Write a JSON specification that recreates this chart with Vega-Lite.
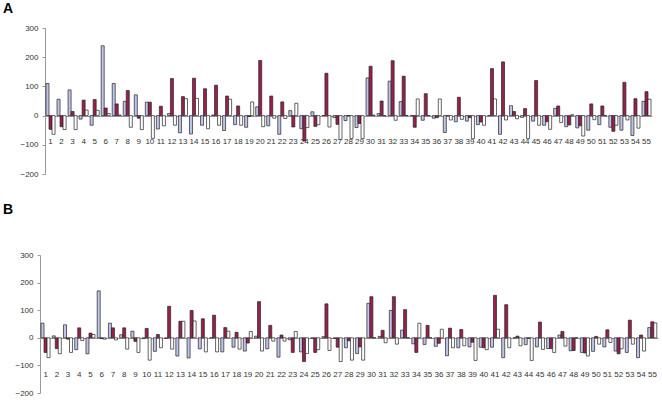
{
"$schema":"https://vega.github.io/schema/vega-lite/v6.json",
"padding":{"left":3,"top":2,"right":0,"bottom":0},
"spacing":25,
"config":{"view":{"stroke":null},"font":"Liberation Sans","axis":{"labelFont":"Liberation Sans","labelFontSize":8,"labelColor":"#333","domainColor":"#999","tickColor":"#999","grid":false,"title":null}},
"datasets":{
"A":[
{"g":1,"s":"a","v":110},{"g":1,"s":"b","v":-47},{"g":1,"s":"c","v":-64},
{"g":2,"s":"a","v":56},{"g":2,"s":"b","v":-38},{"g":2,"s":"c","v":-48},
{"g":3,"s":"a","v":88},{"g":3,"s":"b","v":14},{"g":3,"s":"c","v":-48},
{"g":4,"s":"a","v":-12},{"g":4,"s":"b","v":53},{"g":4,"s":"c","v":19},
{"g":5,"s":"a","v":-33},{"g":5,"s":"b","v":55},{"g":5,"s":"c","v":18},
{"g":6,"s":"a","v":239},{"g":6,"s":"b","v":26},{"g":6,"s":"c","v":7},
{"g":7,"s":"a","v":110},{"g":7,"s":"b","v":40},{"g":7,"s":"c","v":2},
{"g":8,"s":"a","v":49},{"g":8,"s":"b","v":86},{"g":8,"s":"c","v":-40},
{"g":9,"s":"a","v":71},{"g":9,"s":"b","v":-9},{"g":9,"s":"c","v":-48},
{"g":10,"s":"a","v":46},{"g":10,"s":"b","v":46},{"g":10,"s":"c","v":-78},
{"g":11,"s":"a","v":-46},{"g":11,"s":"b","v":32},{"g":11,"s":"c","v":-35},
{"g":12,"s":"a","v":7},{"g":12,"s":"b","v":127},{"g":12,"s":"c","v":-33},
{"g":13,"s":"a","v":-59},{"g":13,"s":"b","v":65},{"g":13,"s":"c","v":58},
{"g":14,"s":"a","v":-63},{"g":14,"s":"b","v":128},{"g":14,"s":"c","v":59},
{"g":15,"s":"a","v":-33},{"g":15,"s":"b","v":92},{"g":15,"s":"c","v":-45},
{"g":16,"s":"a","v":2},{"g":16,"s":"b","v":104},{"g":16,"s":"c","v":-33},
{"g":17,"s":"a","v":-51},{"g":17,"s":"b","v":67},{"g":17,"s":"c","v":56},
{"g":18,"s":"a","v":-31},{"g":18,"s":"b","v":33},{"g":18,"s":"c","v":-33},
{"g":19,"s":"a","v":-40},{"g":19,"s":"b","v":-3},{"g":19,"s":"c","v":47},
{"g":20,"s":"a","v":30},{"g":20,"s":"b","v":189},{"g":20,"s":"c","v":-38},
{"g":21,"s":"a","v":-35},{"g":21,"s":"b","v":67},{"g":21,"s":"c","v":-9},
{"g":22,"s":"a","v":-64},{"g":22,"s":"b","v":47},{"g":22,"s":"c","v":-10},
{"g":23,"s":"a","v":17},{"g":23,"s":"b","v":-39},{"g":23,"s":"c","v":42},
{"g":24,"s":"a","v":-45},{"g":24,"s":"b","v":-87},{"g":24,"s":"c","v":-41},
{"g":25,"s":"a","v":13},{"g":25,"s":"b","v":-37},{"g":25,"s":"c","v":-31},
{"g":26,"s":"a","v":0},{"g":26,"s":"b","v":145},{"g":26,"s":"c","v":-39},
{"g":27,"s":"a","v":-7},{"g":27,"s":"b","v":-30},{"g":27,"s":"c","v":-82},
{"g":28,"s":"a","v":-17},{"g":28,"s":"b","v":0},{"g":28,"s":"c","v":-79},
{"g":29,"s":"a","v":-41},{"g":29,"s":"b","v":-27},{"g":29,"s":"c","v":-79},
{"g":30,"s":"a","v":129},{"g":30,"s":"b","v":169},{"g":30,"s":"c","v":2},
{"g":31,"s":"a","v":7},{"g":31,"s":"b","v":50},{"g":31,"s":"c","v":0},
{"g":32,"s":"a","v":118},{"g":32,"s":"b","v":188},{"g":32,"s":"c","v":-16},
{"g":33,"s":"a","v":48},{"g":33,"s":"b","v":135},{"g":33,"s":"c","v":0},
{"g":34,"s":"a","v":0},{"g":34,"s":"b","v":-40},{"g":34,"s":"c","v":57},
{"g":35,"s":"a","v":-16},{"g":35,"s":"b","v":75},{"g":35,"s":"c","v":0},
{"g":36,"s":"a","v":-9},{"g":36,"s":"b","v":-7},{"g":36,"s":"c","v":57},
{"g":37,"s":"a","v":-58},{"g":37,"s":"b","v":0},{"g":37,"s":"c","v":-15},
{"g":38,"s":"a","v":-21},{"g":38,"s":"b","v":63},{"g":38,"s":"c","v":-13},
{"g":39,"s":"a","v":-19},{"g":39,"s":"b","v":-7},{"g":39,"s":"c","v":-79},
{"g":40,"s":"a","v":-31},{"g":40,"s":"b","v":-22},{"g":40,"s":"c","v":-33},
{"g":41,"s":"a","v":0},{"g":41,"s":"b","v":161},{"g":41,"s":"c","v":57},
{"g":42,"s":"a","v":-64},{"g":42,"s":"b","v":184},{"g":42,"s":"c","v":-15},
{"g":43,"s":"a","v":34},{"g":43,"s":"b","v":14},{"g":43,"s":"c","v":-11},
{"g":44,"s":"a","v":-6},{"g":44,"s":"b","v":24},{"g":44,"s":"c","v":-79},
{"g":45,"s":"a","v":-19},{"g":45,"s":"b","v":120},{"g":45,"s":"c","v":-33},
{"g":46,"s":"a","v":-33},{"g":46,"s":"b","v":-21},{"g":46,"s":"c","v":-47},
{"g":47,"s":"a","v":25},{"g":47,"s":"b","v":33},{"g":47,"s":"c","v":-24},
{"g":48,"s":"a","v":-38},{"g":48,"s":"b","v":-32},{"g":48,"s":"c","v":3},
{"g":49,"s":"a","v":-42},{"g":49,"s":"b","v":-35},{"g":49,"s":"c","v":-70},
{"g":50,"s":"a","v":-50},{"g":50,"s":"b","v":40},{"g":50,"s":"c","v":-14},
{"g":51,"s":"a","v":-31},{"g":51,"s":"b","v":33},{"g":51,"s":"c","v":0},
{"g":52,"s":"a","v":-40},{"g":52,"s":"b","v":-54},{"g":52,"s":"c","v":-33},
{"g":53,"s":"a","v":-50},{"g":53,"s":"b","v":114},{"g":53,"s":"c","v":-15},
{"g":54,"s":"a","v":-68},{"g":54,"s":"b","v":58},{"g":54,"s":"c","v":-43},
{"g":55,"s":"a","v":49},{"g":55,"s":"b","v":82},{"g":55,"s":"c","v":56}
],
"B":[
{"g":1,"s":"a","v":53},{"g":1,"s":"b","v":-53},{"g":1,"s":"c","v":-72},
{"g":2,"s":"a","v":7},{"g":2,"s":"b","v":-39},{"g":2,"s":"c","v":-58},
{"g":3,"s":"a","v":47},{"g":3,"s":"b","v":-5},{"g":3,"s":"c","v":-53},
{"g":4,"s":"a","v":-43},{"g":4,"s":"b","v":36},{"g":4,"s":"c","v":-10},
{"g":5,"s":"a","v":-58},{"g":5,"s":"b","v":17},{"g":5,"s":"c","v":12},
{"g":6,"s":"a","v":170},{"g":6,"s":"b","v":-3},{"g":6,"s":"c","v":-5},
{"g":7,"s":"a","v":53},{"g":7,"s":"b","v":36},{"g":7,"s":"c","v":-8},
{"g":8,"s":"a","v":11},{"g":8,"s":"b","v":36},{"g":8,"s":"c","v":-41},
{"g":9,"s":"a","v":24},{"g":9,"s":"b","v":-13},{"g":9,"s":"c","v":-53},
{"g":10,"s":"a","v":-3},{"g":10,"s":"b","v":34},{"g":10,"s":"c","v":-81},
{"g":11,"s":"a","v":-49},{"g":11,"s":"b","v":12},{"g":11,"s":"c","v":-36},
{"g":12,"s":"a","v":-2},{"g":12,"s":"b","v":114},{"g":12,"s":"c","v":-41},
{"g":13,"s":"a","v":-66},{"g":13,"s":"b","v":60},{"g":13,"s":"c","v":60},
{"g":14,"s":"a","v":-73},{"g":14,"s":"b","v":99},{"g":14,"s":"c","v":61},
{"g":15,"s":"a","v":-40},{"g":15,"s":"b","v":69},{"g":15,"s":"c","v":-51},
{"g":16,"s":"a","v":0},{"g":16,"s":"b","v":82},{"g":16,"s":"c","v":-51},
{"g":17,"s":"a","v":-51},{"g":17,"s":"b","v":37},{"g":17,"s":"c","v":24},
{"g":18,"s":"a","v":-34},{"g":18,"s":"b","v":20},{"g":18,"s":"c","v":-41},
{"g":19,"s":"a","v":-48},{"g":19,"s":"b","v":-19},{"g":19,"s":"c","v":23},
{"g":20,"s":"a","v":6},{"g":20,"s":"b","v":131},{"g":20,"s":"c","v":-48},
{"g":21,"s":"a","v":-40},{"g":21,"s":"b","v":45},{"g":21,"s":"c","v":-12},
{"g":22,"s":"a","v":-70},{"g":22,"s":"b","v":10},{"g":22,"s":"c","v":-12},
{"g":23,"s":"a","v":-7},{"g":23,"s":"b","v":-53},{"g":23,"s":"c","v":23},
{"g":24,"s":"a","v":-51},{"g":24,"s":"b","v":-86},{"g":24,"s":"c","v":-57},
{"g":25,"s":"a","v":-2},{"g":25,"s":"b","v":-53},{"g":25,"s":"c","v":-43},
{"g":26,"s":"a","v":4},{"g":26,"s":"b","v":123},{"g":26,"s":"c","v":-46},
{"g":27,"s":"a","v":-2},{"g":27,"s":"b","v":-34},{"g":27,"s":"c","v":-86},
{"g":28,"s":"a","v":-36},{"g":28,"s":"b","v":-11},{"g":28,"s":"c","v":-81},
{"g":29,"s":"a","v":-57},{"g":29,"s":"b","v":-33},{"g":29,"s":"c","v":-81},
{"g":30,"s":"a","v":125},{"g":30,"s":"b","v":149},{"g":30,"s":"c","v":0},
{"g":31,"s":"a","v":5},{"g":31,"s":"b","v":27},{"g":31,"s":"c","v":-18},
{"g":32,"s":"a","v":99},{"g":32,"s":"b","v":149},{"g":32,"s":"c","v":-23},
{"g":33,"s":"a","v":28},{"g":33,"s":"b","v":102},{"g":33,"s":"c","v":0},
{"g":34,"s":"a","v":-22},{"g":34,"s":"b","v":-53},{"g":34,"s":"c","v":53},
{"g":35,"s":"a","v":-24},{"g":35,"s":"b","v":45},{"g":35,"s":"c","v":0},
{"g":36,"s":"a","v":-31},{"g":36,"s":"b","v":-20},{"g":36,"s":"c","v":31},
{"g":37,"s":"a","v":-65},{"g":37,"s":"b","v":35},{"g":37,"s":"c","v":-36},
{"g":38,"s":"a","v":-36},{"g":38,"s":"b","v":30},{"g":38,"s":"c","v":-29},
{"g":39,"s":"a","v":-33},{"g":39,"s":"b","v":-16},{"g":39,"s":"c","v":-82},
{"g":40,"s":"a","v":-34},{"g":40,"s":"b","v":-36},{"g":40,"s":"c","v":-43},
{"g":41,"s":"a","v":-34},{"g":41,"s":"b","v":154},{"g":41,"s":"c","v":31},
{"g":42,"s":"a","v":-72},{"g":42,"s":"b","v":120},{"g":42,"s":"c","v":-36},
{"g":43,"s":"a","v":0},{"g":43,"s":"b","v":6},{"g":43,"s":"c","v":-29},
{"g":44,"s":"a","v":-25},{"g":44,"s":"b","v":-2},{"g":44,"s":"c","v":-82},
{"g":45,"s":"a","v":-33},{"g":45,"s":"b","v":57},{"g":45,"s":"c","v":-42},
{"g":46,"s":"a","v":-39},{"g":46,"s":"b","v":-39},{"g":46,"s":"c","v":-53},
{"g":47,"s":"a","v":10},{"g":47,"s":"b","v":23},{"g":47,"s":"c","v":-30},
{"g":48,"s":"a","v":-47},{"g":48,"s":"b","v":-46},{"g":48,"s":"c","v":0},
{"g":49,"s":"a","v":-53},{"g":49,"s":"b","v":-55},{"g":49,"s":"c","v":-66},
{"g":50,"s":"a","v":-49},{"g":50,"s":"b","v":5},{"g":50,"s":"c","v":-23},
{"g":51,"s":"a","v":-33},{"g":51,"s":"b","v":29},{"g":51,"s":"c","v":-17},
{"g":52,"s":"a","v":-48},{"g":52,"s":"b","v":-58},{"g":52,"s":"c","v":-40},
{"g":53,"s":"a","v":-53},{"g":53,"s":"b","v":64},{"g":53,"s":"c","v":-23},
{"g":54,"s":"a","v":-72},{"g":54,"s":"b","v":10},{"g":54,"s":"c","v":-48},
{"g":55,"s":"a","v":37},{"g":55,"s":"b","v":58},{"g":55,"s":"c","v":54}
]
},
"vconcat":[
{
"title":{"text":"A","anchor":"start","frame":"group","dx":-42,"offset":8,"fontSize":14,"fontWeight":"bold","font":"Liberation Sans","color":"#000"},
"width":607,"height":146,
"data":{"name":"A"},
"mark":{"type":"bar","stroke":"#222","strokeWidth":0.7},
"encoding":{
"x":{"field":"g","type":"ordinal","scale":{"paddingInner":0.18,"paddingOuter":0.09},"axis":{"labelAngle":0,"ticks":false,"tickSize":0,"offset":-58,"labelPadding":21}},
"xOffset":{"field":"s","type":"nominal","scale":{"domain":["a","b","c"]}},
"y":{"field":"v","type":"quantitative","scale":{"domain":[-200,300],"nice":false},"axis":{"values":[-200,-100,0,100,200,300],"tickSize":3,"labelPadding":4}},
"fill":{"field":"s","type":"nominal","scale":{"domain":["a","b","c"],"range":["#c0c4ec","#9c1f4c","#ffffff"]},"legend":null}
}
},
{
"title":{"text":"B","anchor":"start","frame":"group","dx":-42,"offset":34,"fontSize":14,"fontWeight":"bold","font":"Liberation Sans","color":"#000"},
"width":613,"height":138,
"data":{"name":"B"},
"mark":{"type":"bar","stroke":"#222","strokeWidth":0.7},
"encoding":{
"x":{"field":"g","type":"ordinal","scale":{"range":[-5,613],"paddingInner":0.18,"paddingOuter":0.09},"axis":{"labelAngle":0,"ticks":false,"tickSize":0,"offset":-55,"labelPadding":32}},
"xOffset":{"field":"s","type":"nominal","scale":{"domain":["a","b","c"]}},
"y":{"field":"v","type":"quantitative","scale":{"domain":[-200,300],"nice":false},"axis":{"values":[-200,-100,0,100,200,300],"tickSize":3,"labelPadding":4,"offset":5}},
"fill":{"field":"s","type":"nominal","scale":{"domain":["a","b","c"],"range":["#c0c4ec","#9c1f4c","#ffffff"]},"legend":null}
}
}
]
}
